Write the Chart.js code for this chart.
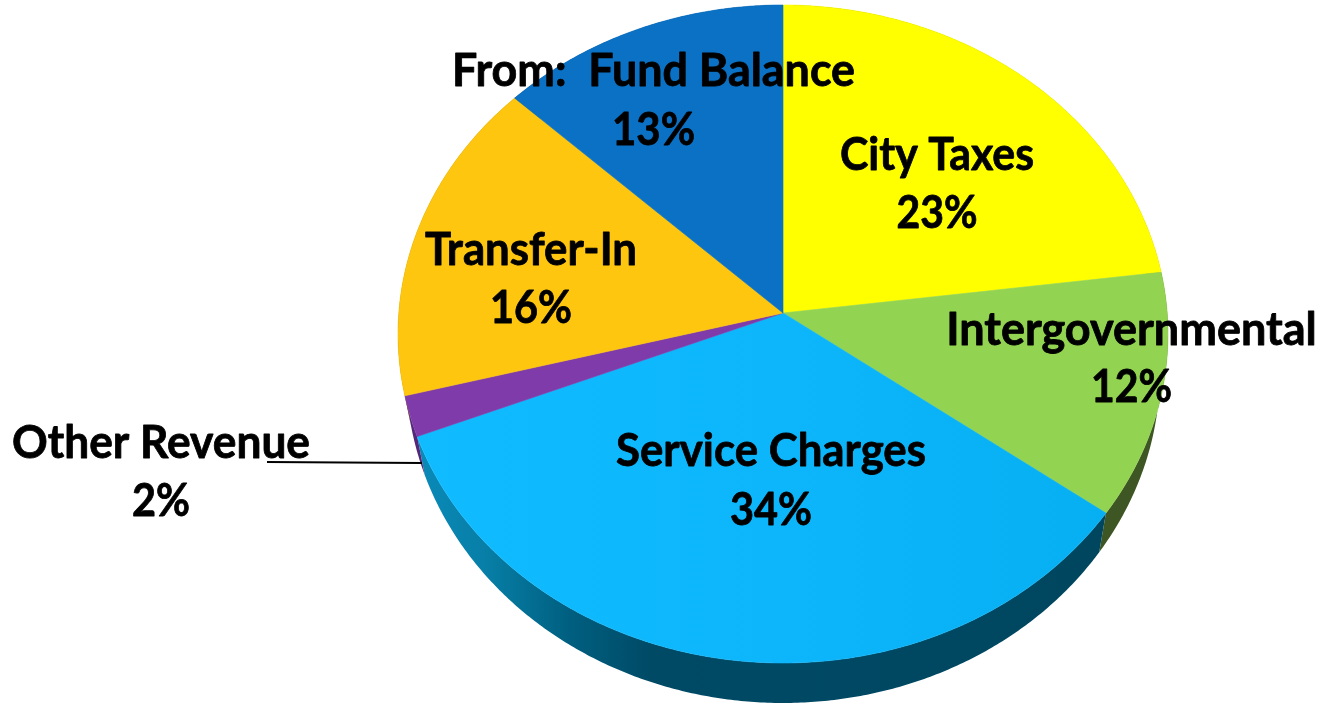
<!DOCTYPE html>
<html>
<head>
<meta charset="utf-8">
<title>Revenue sources</title>
<script src="https://cdn.jsdelivr.net/npm/chart.js@4/dist/chart.umd.js"></script>
<style>
html,body{margin:0;padding:0;background:#fff;overflow:hidden}
canvas{display:block}
</style>
</head>
<body>
<canvas id="c" width="1322" height="703"></canvas>
<script>
const categories = ["City Taxes","Intergovernmental","Service Charges","Other Revenue","Transfer-In","From:  Fund Balance"];
const shares = [23,12,34,2,16,13];
const faceColors = ["#ffff00","#93d352","#0db6fb","#7e3ba9","#ffc60f","#0a71c4"];

// label placement: [centre x, name baseline, % baseline, name width, % width]
const labelBoxes = [
  [937,170,228,194,81],
  [1131.5,345,402,373,81],
  [771,466,525,310,82],
  [161,458,516,298,58],
  [531,265,323,212,82],
  [653.5,86,145,403,83]
];

// projection of the circular pie onto the tilted disc
const P = {sx:1.2474, sy:1.0638, k:-0.0638,
  topC:[0,21/308], topR:[385/308,329/308],
  botC:[0,59/308], botR:[377/308,331/308]};

function rim(arc,a){
  const x=Math.cos(a), y=Math.sin(a), d=1+P.k*y;
  return [P.sx*x/d, P.sy*y/d];
}
function lower(p){
  const u=(p[0]-P.topC[0])/P.topR[0], v=(p[1]-P.topC[1])/P.topR[1];
  return [P.botC[0]+P.botR[0]*u, P.botC[1]+P.botR[1]*v];
}
function shade(ctx,i,R,cx){
  if(i===2){
    const g=ctx.createLinearGradient(cx-R*1.25,0,cx+R*1.25,0);
    g.addColorStop(0,"#10bbff");g.addColorStop(.5,"#0db6fb");g.addColorStop(1,"#05aef0");
    return g;
  }
  return faceColors[i];
}
function wallFill(ctx,i,R,cx){
  if(i===2){
    const g=ctx.createLinearGradient(420,0,1100,0);
    g.addColorStop(0,"#0a8ab8");g.addColorStop(.1,"#077ea6");g.addColorStop(.22,"#005f80");
    g.addColorStop(.34,"#004a66");g.addColorStop(1,"#00465f");
    return g;
  }
  return ["#8a8a00","#3e5524","#00465f","#55277a","#8a6a00","#053f70"][i];
}

const pie3d = {
  id:"pie3d",
  beforeDatasetDraw(chart){
    const ctx=chart.ctx, arcs=chart.getDatasetMeta(0).data;
    const R=arcs[0].outerRadius, cx=arcs[0].x, cy=arcs[0].y;
    const X=p=>cx+p[0]*R, Y=p=>cy+p[1]*R;
    const pts=arc=>{
      const n=Math.max(4,Math.ceil((arc.endAngle-arc.startAngle)*120)),o=[];
      for(let j=0;j<=n;j++) o.push(rim(arc,arc.startAngle+(arc.endAngle-arc.startAngle)*j/n));
      return o;
    };
    ctx.save();
    arcs.forEach((arc,i)=>{
      const t=pts(arc);
      ctx.beginPath();
      t.forEach((p,j)=>j?ctx.lineTo(X(p),Y(p)):ctx.moveTo(X(p),Y(p)));
      t.slice().reverse().forEach(p=>{const q=lower(p);ctx.lineTo(X(q),Y(q));});
      ctx.closePath();
      ctx.fillStyle=wallFill(ctx,i,R,cx);
      ctx.fill();
    });
    arcs.forEach((arc,i)=>{
      const t=pts(arc);
      ctx.beginPath();
      ctx.moveTo(cx,cy);
      t.forEach(p=>ctx.lineTo(X(p),Y(p)));
      ctx.closePath();
      const s=shade(ctx,i,R,cx);
      ctx.fillStyle=s;ctx.fill();
      ctx.strokeStyle=s;ctx.lineWidth=.6;ctx.lineJoin="round";ctx.stroke();
    });
    ctx.restore();
    return false;
  },
  afterDatasetsDraw(chart){
    const ctx=chart.ctx;
    ctx.save();
    ctx.strokeStyle="#000";ctx.lineWidth=2;
    ctx.beginPath();ctx.moveTo(267,462);ctx.lineTo(422,463);ctx.stroke();
    ctx.fillStyle="#000";ctx.textAlign="center";ctx.textBaseline="alphabetic";
    ctx.font='700 45px Lato';
    ctx.lineWidth=.8;ctx.lineJoin="round";
    categories.forEach((name,i)=>{
      const b=labelBoxes[i];
      ctx.fillText(name,b[0],b[1],b[3]);
      ctx.strokeText(name,b[0],b[1],b[3]);
      ctx.fillText(shares[i]+"%",b[0],b[2],b[4]);
      ctx.strokeText(shares[i]+"%",b[0],b[2],b[4]);
    });
    ctx.restore();
  }
};

new Chart(document.getElementById("c"),{
  type:"pie",
  data:{labels:categories,datasets:[{data:shares,backgroundColor:faceColors,borderWidth:0}]},
  options:{
    responsive:false,animation:false,
    layout:{padding:{left:475,right:231,top:5,bottom:82}},
    plugins:{legend:{display:false},title:{display:false},tooltip:{enabled:false}}
  },
  plugins:[pie3d]
});
</script>
</body>
</html>
